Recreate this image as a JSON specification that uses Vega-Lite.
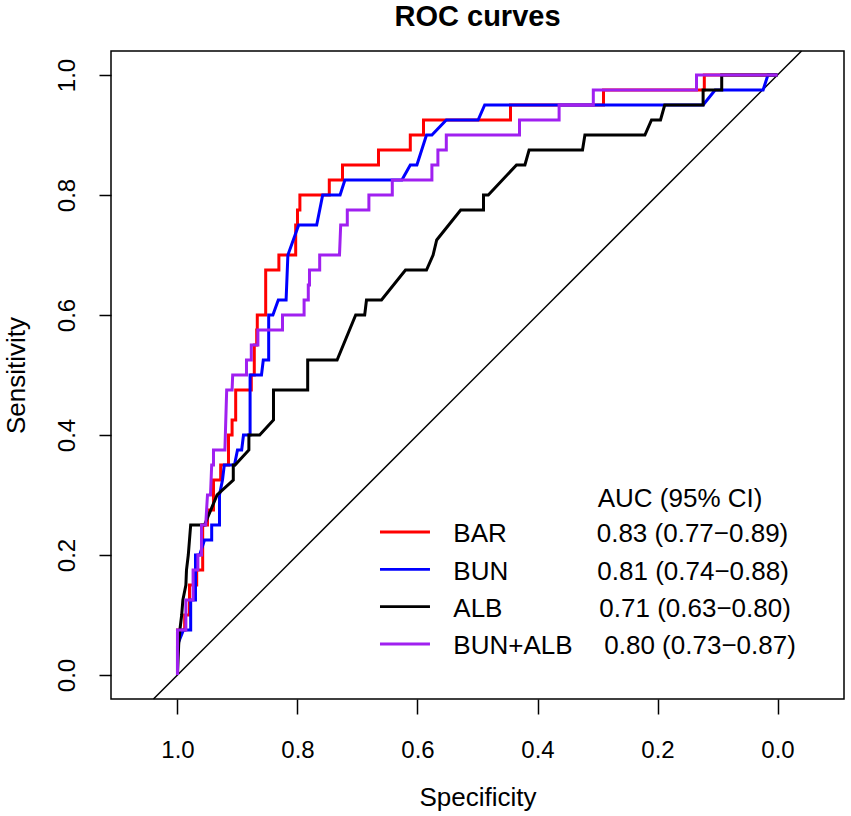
{
  "$schema": "https://vega.github.io/schema/vega-lite/v6.json",
  "width": 733,
  "height": 648,
  "autosize": {"type": "none"},
  "padding": {"left": 111, "top": 51, "right": 7, "bottom": 117},
  "background": "white",
  "config": {
    "view": {"stroke": "black", "strokeWidth": 1.5},
    "font": "Liberation Sans",
    "axis": {
      "grid": false,
      "domain": false,
      "tickColor": "black",
      "tickWidth": 1.5,
      "labelColor": "black",
      "labelFont": "Liberation Sans",
      "labelFontSize": 24,
      "titleColor": "black",
      "titleFont": "Liberation Sans",
      "titleFontSize": 26,
      "titleFontWeight": "normal"
    }
  },
  "datasets": {
    "roc": [
      {"series": "BAR", "i": 0, "spec": 1, "sens": 0},
      {"series": "BAR", "i": 1, "spec": 1, "sens": 0.075},
      {"series": "BAR", "i": 2, "spec": 0.988, "sens": 0.075},
      {"series": "BAR", "i": 3, "spec": 0.988, "sens": 0.1},
      {"series": "BAR", "i": 4, "spec": 0.98, "sens": 0.1},
      {"series": "BAR", "i": 5, "spec": 0.98, "sens": 0.15},
      {"series": "BAR", "i": 6, "spec": 0.968, "sens": 0.15},
      {"series": "BAR", "i": 7, "spec": 0.968, "sens": 0.175},
      {"series": "BAR", "i": 8, "spec": 0.958, "sens": 0.175},
      {"series": "BAR", "i": 9, "spec": 0.958, "sens": 0.25},
      {"series": "BAR", "i": 10, "spec": 0.95, "sens": 0.25},
      {"series": "BAR", "i": 11, "spec": 0.95, "sens": 0.275},
      {"series": "BAR", "i": 12, "spec": 0.94, "sens": 0.275},
      {"series": "BAR", "i": 13, "spec": 0.94, "sens": 0.325},
      {"series": "BAR", "i": 14, "spec": 0.928, "sens": 0.325},
      {"series": "BAR", "i": 15, "spec": 0.928, "sens": 0.35},
      {"series": "BAR", "i": 16, "spec": 0.915, "sens": 0.35},
      {"series": "BAR", "i": 17, "spec": 0.915, "sens": 0.4},
      {"series": "BAR", "i": 18, "spec": 0.909, "sens": 0.4},
      {"series": "BAR", "i": 19, "spec": 0.909, "sens": 0.425},
      {"series": "BAR", "i": 20, "spec": 0.903, "sens": 0.425},
      {"series": "BAR", "i": 21, "spec": 0.903, "sens": 0.475},
      {"series": "BAR", "i": 22, "spec": 0.877, "sens": 0.475},
      {"series": "BAR", "i": 23, "spec": 0.877, "sens": 0.5},
      {"series": "BAR", "i": 24, "spec": 0.872, "sens": 0.5},
      {"series": "BAR", "i": 25, "spec": 0.872, "sens": 0.55},
      {"series": "BAR", "i": 26, "spec": 0.868, "sens": 0.55},
      {"series": "BAR", "i": 27, "spec": 0.868, "sens": 0.575},
      {"series": "BAR", "i": 28, "spec": 0.867, "sens": 0.575},
      {"series": "BAR", "i": 29, "spec": 0.867, "sens": 0.6},
      {"series": "BAR", "i": 30, "spec": 0.853, "sens": 0.6},
      {"series": "BAR", "i": 31, "spec": 0.853, "sens": 0.675},
      {"series": "BAR", "i": 32, "spec": 0.831, "sens": 0.675},
      {"series": "BAR", "i": 33, "spec": 0.831, "sens": 0.7},
      {"series": "BAR", "i": 34, "spec": 0.803, "sens": 0.7},
      {"series": "BAR", "i": 35, "spec": 0.803, "sens": 0.75},
      {"series": "BAR", "i": 36, "spec": 0.8, "sens": 0.75},
      {"series": "BAR", "i": 37, "spec": 0.8, "sens": 0.775},
      {"series": "BAR", "i": 38, "spec": 0.796, "sens": 0.775},
      {"series": "BAR", "i": 39, "spec": 0.796, "sens": 0.8},
      {"series": "BAR", "i": 40, "spec": 0.747, "sens": 0.8},
      {"series": "BAR", "i": 41, "spec": 0.747, "sens": 0.825},
      {"series": "BAR", "i": 42, "spec": 0.725, "sens": 0.825},
      {"series": "BAR", "i": 43, "spec": 0.725, "sens": 0.85},
      {"series": "BAR", "i": 44, "spec": 0.665, "sens": 0.85},
      {"series": "BAR", "i": 45, "spec": 0.665, "sens": 0.875},
      {"series": "BAR", "i": 46, "spec": 0.612, "sens": 0.875},
      {"series": "BAR", "i": 47, "spec": 0.612, "sens": 0.9},
      {"series": "BAR", "i": 48, "spec": 0.59, "sens": 0.9},
      {"series": "BAR", "i": 49, "spec": 0.59, "sens": 0.925},
      {"series": "BAR", "i": 50, "spec": 0.445, "sens": 0.925},
      {"series": "BAR", "i": 51, "spec": 0.445, "sens": 0.95},
      {"series": "BAR", "i": 52, "spec": 0.29, "sens": 0.95},
      {"series": "BAR", "i": 53, "spec": 0.29, "sens": 0.975},
      {"series": "BAR", "i": 54, "spec": 0.122, "sens": 0.975},
      {"series": "BAR", "i": 55, "spec": 0.122, "sens": 1},
      {"series": "BAR", "i": 56, "spec": 0, "sens": 1},

      {"series": "BUN", "i": 0, "spec": 1, "sens": 0},
      {"series": "BUN", "i": 1, "spec": 1, "sens": 0.05},
      {"series": "BUN", "i": 2, "spec": 0.99, "sens": 0.075},
      {"series": "BUN", "i": 3, "spec": 0.978, "sens": 0.075},
      {"series": "BUN", "i": 4, "spec": 0.978, "sens": 0.125},
      {"series": "BUN", "i": 5, "spec": 0.97, "sens": 0.125},
      {"series": "BUN", "i": 6, "spec": 0.97, "sens": 0.2},
      {"series": "BUN", "i": 7, "spec": 0.963, "sens": 0.2},
      {"series": "BUN", "i": 8, "spec": 0.955, "sens": 0.225},
      {"series": "BUN", "i": 9, "spec": 0.943, "sens": 0.225},
      {"series": "BUN", "i": 10, "spec": 0.943, "sens": 0.25},
      {"series": "BUN", "i": 11, "spec": 0.93, "sens": 0.25},
      {"series": "BUN", "i": 12, "spec": 0.93, "sens": 0.3},
      {"series": "BUN", "i": 13, "spec": 0.925, "sens": 0.325},
      {"series": "BUN", "i": 14, "spec": 0.922, "sens": 0.35},
      {"series": "BUN", "i": 15, "spec": 0.905, "sens": 0.35},
      {"series": "BUN", "i": 16, "spec": 0.9, "sens": 0.375},
      {"series": "BUN", "i": 17, "spec": 0.893, "sens": 0.375},
      {"series": "BUN", "i": 18, "spec": 0.89, "sens": 0.4},
      {"series": "BUN", "i": 19, "spec": 0.879, "sens": 0.4},
      {"series": "BUN", "i": 20, "spec": 0.879, "sens": 0.5},
      {"series": "BUN", "i": 21, "spec": 0.86, "sens": 0.5},
      {"series": "BUN", "i": 22, "spec": 0.857, "sens": 0.525},
      {"series": "BUN", "i": 23, "spec": 0.848, "sens": 0.525},
      {"series": "BUN", "i": 24, "spec": 0.848, "sens": 0.6},
      {"series": "BUN", "i": 25, "spec": 0.841, "sens": 0.6},
      {"series": "BUN", "i": 26, "spec": 0.832, "sens": 0.625},
      {"series": "BUN", "i": 27, "spec": 0.819, "sens": 0.625},
      {"series": "BUN", "i": 28, "spec": 0.816, "sens": 0.7},
      {"series": "BUN", "i": 29, "spec": 0.798, "sens": 0.75},
      {"series": "BUN", "i": 30, "spec": 0.768, "sens": 0.75},
      {"series": "BUN", "i": 31, "spec": 0.758, "sens": 0.8},
      {"series": "BUN", "i": 32, "spec": 0.729, "sens": 0.8},
      {"series": "BUN", "i": 33, "spec": 0.721, "sens": 0.825},
      {"series": "BUN", "i": 34, "spec": 0.626, "sens": 0.825},
      {"series": "BUN", "i": 35, "spec": 0.612, "sens": 0.85},
      {"series": "BUN", "i": 36, "spec": 0.601, "sens": 0.85},
      {"series": "BUN", "i": 37, "spec": 0.585, "sens": 0.9},
      {"series": "BUN", "i": 38, "spec": 0.576, "sens": 0.9},
      {"series": "BUN", "i": 39, "spec": 0.552, "sens": 0.925},
      {"series": "BUN", "i": 40, "spec": 0.499, "sens": 0.925},
      {"series": "BUN", "i": 41, "spec": 0.488, "sens": 0.95},
      {"series": "BUN", "i": 42, "spec": 0.124, "sens": 0.95},
      {"series": "BUN", "i": 43, "spec": 0.104, "sens": 0.975},
      {"series": "BUN", "i": 44, "spec": 0.024, "sens": 0.975},
      {"series": "BUN", "i": 45, "spec": 0.016, "sens": 1},
      {"series": "BUN", "i": 46, "spec": 0, "sens": 1},

      {"series": "ALB", "i": 0, "spec": 1, "sens": 0},
      {"series": "ALB", "i": 1, "spec": 0.998, "sens": 0.05},
      {"series": "ALB", "i": 2, "spec": 0.996, "sens": 0.075},
      {"series": "ALB", "i": 3, "spec": 0.993, "sens": 0.1},
      {"series": "ALB", "i": 4, "spec": 0.991, "sens": 0.125},
      {"series": "ALB", "i": 5, "spec": 0.986, "sens": 0.15},
      {"series": "ALB", "i": 6, "spec": 0.985, "sens": 0.175},
      {"series": "ALB", "i": 7, "spec": 0.982, "sens": 0.2},
      {"series": "ALB", "i": 8, "spec": 0.98, "sens": 0.225},
      {"series": "ALB", "i": 9, "spec": 0.978, "sens": 0.25},
      {"series": "ALB", "i": 10, "spec": 0.955, "sens": 0.25},
      {"series": "ALB", "i": 11, "spec": 0.934, "sens": 0.3},
      {"series": "ALB", "i": 12, "spec": 0.907, "sens": 0.325},
      {"series": "ALB", "i": 13, "spec": 0.907, "sens": 0.35},
      {"series": "ALB", "i": 14, "spec": 0.904, "sens": 0.35},
      {"series": "ALB", "i": 15, "spec": 0.881, "sens": 0.375},
      {"series": "ALB", "i": 16, "spec": 0.881, "sens": 0.4},
      {"series": "ALB", "i": 17, "spec": 0.863, "sens": 0.4},
      {"series": "ALB", "i": 18, "spec": 0.84, "sens": 0.425},
      {"series": "ALB", "i": 19, "spec": 0.84, "sens": 0.475},
      {"series": "ALB", "i": 20, "spec": 0.783, "sens": 0.475},
      {"series": "ALB", "i": 21, "spec": 0.783, "sens": 0.525},
      {"series": "ALB", "i": 22, "spec": 0.734, "sens": 0.525},
      {"series": "ALB", "i": 23, "spec": 0.703, "sens": 0.6},
      {"series": "ALB", "i": 24, "spec": 0.688, "sens": 0.6},
      {"series": "ALB", "i": 25, "spec": 0.685, "sens": 0.625},
      {"series": "ALB", "i": 26, "spec": 0.66, "sens": 0.625},
      {"series": "ALB", "i": 27, "spec": 0.62, "sens": 0.675},
      {"series": "ALB", "i": 28, "spec": 0.585, "sens": 0.675},
      {"series": "ALB", "i": 29, "spec": 0.574, "sens": 0.7},
      {"series": "ALB", "i": 30, "spec": 0.568, "sens": 0.725},
      {"series": "ALB", "i": 31, "spec": 0.528, "sens": 0.775},
      {"series": "ALB", "i": 32, "spec": 0.49, "sens": 0.775},
      {"series": "ALB", "i": 33, "spec": 0.49, "sens": 0.8},
      {"series": "ALB", "i": 34, "spec": 0.482, "sens": 0.8},
      {"series": "ALB", "i": 35, "spec": 0.435, "sens": 0.85},
      {"series": "ALB", "i": 36, "spec": 0.421, "sens": 0.85},
      {"series": "ALB", "i": 37, "spec": 0.414, "sens": 0.875},
      {"series": "ALB", "i": 38, "spec": 0.325, "sens": 0.875},
      {"series": "ALB", "i": 39, "spec": 0.321, "sens": 0.9},
      {"series": "ALB", "i": 40, "spec": 0.221, "sens": 0.9},
      {"series": "ALB", "i": 41, "spec": 0.21, "sens": 0.925},
      {"series": "ALB", "i": 42, "spec": 0.195, "sens": 0.925},
      {"series": "ALB", "i": 43, "spec": 0.188, "sens": 0.95},
      {"series": "ALB", "i": 44, "spec": 0.124, "sens": 0.95},
      {"series": "ALB", "i": 45, "spec": 0.124, "sens": 0.975},
      {"series": "ALB", "i": 46, "spec": 0.093, "sens": 0.975},
      {"series": "ALB", "i": 47, "spec": 0.093, "sens": 1},
      {"series": "ALB", "i": 48, "spec": 0, "sens": 1},

      {"series": "BUN+ALB", "i": 0, "spec": 1, "sens": 0},
      {"series": "BUN+ALB", "i": 1, "spec": 1, "sens": 0.075},
      {"series": "BUN+ALB", "i": 2, "spec": 0.986, "sens": 0.075},
      {"series": "BUN+ALB", "i": 3, "spec": 0.986, "sens": 0.125},
      {"series": "BUN+ALB", "i": 4, "spec": 0.974, "sens": 0.125},
      {"series": "BUN+ALB", "i": 5, "spec": 0.974, "sens": 0.175},
      {"series": "BUN+ALB", "i": 6, "spec": 0.966, "sens": 0.175},
      {"series": "BUN+ALB", "i": 7, "spec": 0.966, "sens": 0.2},
      {"series": "BUN+ALB", "i": 8, "spec": 0.96, "sens": 0.2},
      {"series": "BUN+ALB", "i": 9, "spec": 0.96, "sens": 0.25},
      {"series": "BUN+ALB", "i": 10, "spec": 0.953, "sens": 0.25},
      {"series": "BUN+ALB", "i": 11, "spec": 0.95, "sens": 0.3},
      {"series": "BUN+ALB", "i": 12, "spec": 0.945, "sens": 0.3},
      {"series": "BUN+ALB", "i": 13, "spec": 0.943, "sens": 0.35},
      {"series": "BUN+ALB", "i": 14, "spec": 0.94, "sens": 0.35},
      {"series": "BUN+ALB", "i": 15, "spec": 0.94, "sens": 0.375},
      {"series": "BUN+ALB", "i": 16, "spec": 0.921, "sens": 0.375},
      {"series": "BUN+ALB", "i": 17, "spec": 0.918, "sens": 0.475},
      {"series": "BUN+ALB", "i": 18, "spec": 0.909, "sens": 0.475},
      {"series": "BUN+ALB", "i": 19, "spec": 0.908, "sens": 0.5},
      {"series": "BUN+ALB", "i": 20, "spec": 0.885, "sens": 0.5},
      {"series": "BUN+ALB", "i": 21, "spec": 0.885, "sens": 0.525},
      {"series": "BUN+ALB", "i": 22, "spec": 0.877, "sens": 0.525},
      {"series": "BUN+ALB", "i": 23, "spec": 0.877, "sens": 0.55},
      {"series": "BUN+ALB", "i": 24, "spec": 0.866, "sens": 0.55},
      {"series": "BUN+ALB", "i": 25, "spec": 0.866, "sens": 0.575},
      {"series": "BUN+ALB", "i": 26, "spec": 0.825, "sens": 0.575},
      {"series": "BUN+ALB", "i": 27, "spec": 0.825, "sens": 0.6},
      {"series": "BUN+ALB", "i": 28, "spec": 0.789, "sens": 0.6},
      {"series": "BUN+ALB", "i": 29, "spec": 0.789, "sens": 0.625},
      {"series": "BUN+ALB", "i": 30, "spec": 0.782, "sens": 0.625},
      {"series": "BUN+ALB", "i": 31, "spec": 0.782, "sens": 0.65},
      {"series": "BUN+ALB", "i": 32, "spec": 0.78, "sens": 0.65},
      {"series": "BUN+ALB", "i": 33, "spec": 0.78, "sens": 0.675},
      {"series": "BUN+ALB", "i": 34, "spec": 0.763, "sens": 0.675},
      {"series": "BUN+ALB", "i": 35, "spec": 0.763, "sens": 0.7},
      {"series": "BUN+ALB", "i": 36, "spec": 0.73, "sens": 0.7},
      {"series": "BUN+ALB", "i": 37, "spec": 0.729, "sens": 0.725},
      {"series": "BUN+ALB", "i": 38, "spec": 0.728, "sens": 0.75},
      {"series": "BUN+ALB", "i": 39, "spec": 0.717, "sens": 0.75},
      {"series": "BUN+ALB", "i": 40, "spec": 0.717, "sens": 0.775},
      {"series": "BUN+ALB", "i": 41, "spec": 0.681, "sens": 0.775},
      {"series": "BUN+ALB", "i": 42, "spec": 0.681, "sens": 0.8},
      {"series": "BUN+ALB", "i": 43, "spec": 0.642, "sens": 0.8},
      {"series": "BUN+ALB", "i": 44, "spec": 0.642, "sens": 0.825},
      {"series": "BUN+ALB", "i": 45, "spec": 0.576, "sens": 0.825},
      {"series": "BUN+ALB", "i": 46, "spec": 0.576, "sens": 0.85},
      {"series": "BUN+ALB", "i": 47, "spec": 0.566, "sens": 0.85},
      {"series": "BUN+ALB", "i": 48, "spec": 0.566, "sens": 0.875},
      {"series": "BUN+ALB", "i": 49, "spec": 0.552, "sens": 0.875},
      {"series": "BUN+ALB", "i": 50, "spec": 0.552, "sens": 0.9},
      {"series": "BUN+ALB", "i": 51, "spec": 0.43, "sens": 0.9},
      {"series": "BUN+ALB", "i": 52, "spec": 0.43, "sens": 0.925},
      {"series": "BUN+ALB", "i": 53, "spec": 0.364, "sens": 0.925},
      {"series": "BUN+ALB", "i": 54, "spec": 0.364, "sens": 0.95},
      {"series": "BUN+ALB", "i": 55, "spec": 0.307, "sens": 0.95},
      {"series": "BUN+ALB", "i": 56, "spec": 0.307, "sens": 0.975},
      {"series": "BUN+ALB", "i": 57, "spec": 0.135, "sens": 0.975},
      {"series": "BUN+ALB", "i": 58, "spec": 0.135, "sens": 1},
      {"series": "BUN+ALB", "i": 59, "spec": 0, "sens": 1}
    ],
    "keys": [
      {"series": "BAR", "spec": 0.6625, "spec2": 0.5792, "sens": 0.2383},
      {"series": "BUN", "spec": 0.6625, "spec2": 0.5792, "sens": 0.1762},
      {"series": "ALB", "spec": 0.6625, "spec2": 0.5792, "sens": 0.1138},
      {"series": "BUN+ALB", "spec": 0.6625, "spec2": 0.5792, "sens": 0.0517}
    ],
    "labels": [
      {"text": "AUC (95% CI)", "spec": 0.2997, "sens": 0.2805},
      {"text": "BAR", "spec": 0.5403, "sens": 0.2212},
      {"text": "0.83 (0.77−0.89)", "spec": 0.3013, "sens": 0.2212},
      {"text": "BUN", "spec": 0.5403, "sens": 0.159},
      {"text": "0.81 (0.74−0.88)", "spec": 0.3003, "sens": 0.159},
      {"text": "ALB", "spec": 0.5403, "sens": 0.0967},
      {"text": "0.71 (0.63−0.80)", "spec": 0.297, "sens": 0.0967},
      {"text": "BUN+ALB", "spec": 0.5403, "sens": 0.0345},
      {"text": "0.80 (0.73−0.87)", "spec": 0.2887, "sens": 0.0345}
    ],
    "heading": [
      {"text": "ROC curves", "spec": 0.5, "sens": 1.0817}
    ],
    "diag": [
      {"spec": 1.04, "sens": -0.04},
      {"spec": -0.04, "sens": 1.04}
    ]
  },
  "encoding": {
    "x": {
      "field": "spec",
      "type": "quantitative",
      "title": "Specificity",
      "scale": {"domain": [-0.1108, 1.1108], "reverse": true, "nice": false, "zero": false},
      "axis": {
        "values": [0, 0.2, 0.4, 0.6, 0.8, 1],
        "format": ".1f",
        "tickSize": 15,
        "labelPadding": 43,
        "labelBaseline": "alphabetic",
        "labelAlign": "center",
        "titleY": 106,
        "titleBaseline": "alphabetic"
      }
    },
    "y": {
      "field": "sens",
      "type": "quantitative",
      "title": "Sensitivity",
      "scale": {"domain": [-0.04, 1.04], "nice": false, "zero": false},
      "axis": {
        "values": [0, 0.2, 0.4, 0.6, 0.8, 1],
        "format": ".1f",
        "tickSize": 12,
        "labelAngle": -90,
        "labelAlign": "center",
        "labelBaseline": "alphabetic",
        "labelPadding": 25,
        "titleAngle": -90,
        "titleX": -87,
        "titleY": 324,
        "titleAlign": "center",
        "titleBaseline": "alphabetic"
      }
    }
  },
  "layer": [
    {
      "data": {"name": "diag"},
      "mark": {"type": "line", "color": "black", "strokeWidth": 1.5},
      "encoding": {}
    },
    {
      "data": {"name": "roc"},
      "transform": [{"filter": "datum.series == 'BAR'"}],
      "mark": {"type": "line", "color": "#FF0000", "strokeWidth": 3},
      "encoding": {"order": {"field": "i", "type": "quantitative"}}
    },
    {
      "data": {"name": "roc"},
      "transform": [{"filter": "datum.series == 'BUN'"}],
      "mark": {"type": "line", "color": "#0000FF", "strokeWidth": 3},
      "encoding": {"order": {"field": "i", "type": "quantitative"}}
    },
    {
      "data": {"name": "roc"},
      "transform": [{"filter": "datum.series == 'ALB'"}],
      "mark": {"type": "line", "color": "#000000", "strokeWidth": 3},
      "encoding": {"order": {"field": "i", "type": "quantitative"}}
    },
    {
      "data": {"name": "roc"},
      "transform": [{"filter": "datum.series == 'BUN+ALB'"}],
      "mark": {"type": "line", "color": "#A020F0", "strokeWidth": 3},
      "encoding": {"order": {"field": "i", "type": "quantitative"}}
    },
    {
      "data": {"name": "keys"},
      "mark": {"type": "rule", "strokeWidth": 2.8},
      "encoding": {
        "x2": {"field": "spec2"},
        "color": {
          "field": "series",
          "type": "nominal",
          "scale": {"domain": ["BAR", "BUN", "ALB", "BUN+ALB"], "range": ["#FF0000", "#0000FF", "#000000", "#A020F0"]},
          "legend": null
        }
      }
    },
    {
      "data": {"name": "labels"},
      "mark": {"type": "text", "align": "left", "baseline": "alphabetic", "fontSize": 26, "font": "Liberation Sans", "color": "black"},
      "encoding": {"text": {"field": "text"}}
    },
    {
      "data": {"name": "heading"},
      "mark": {"type": "text", "align": "center", "baseline": "alphabetic", "fontSize": 29, "fontWeight": "bold", "font": "Liberation Sans", "color": "black"},
      "encoding": {"text": {"field": "text"}}
    }
  ]
}
